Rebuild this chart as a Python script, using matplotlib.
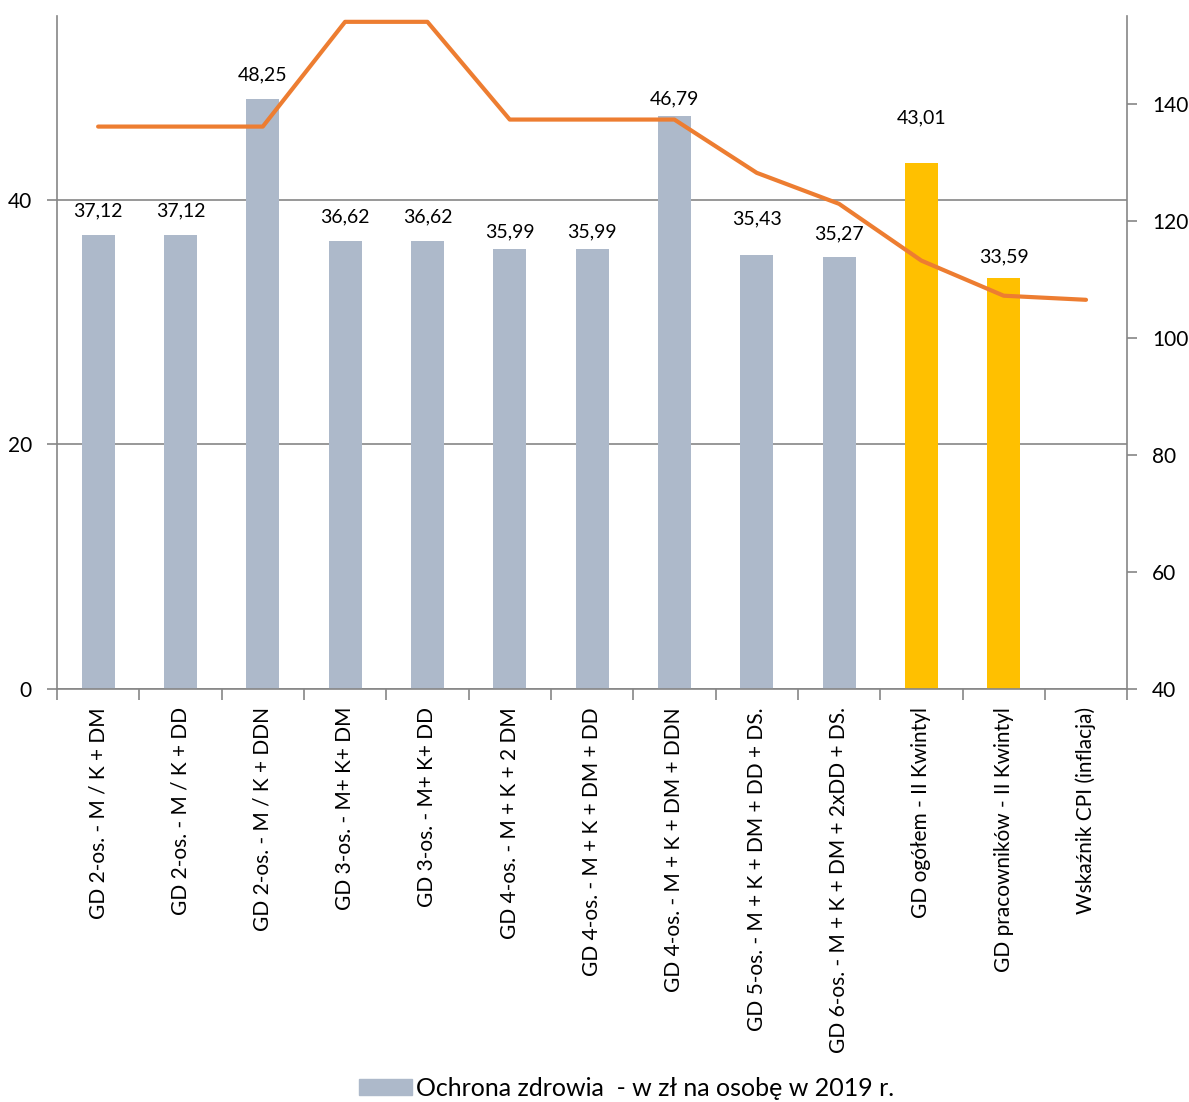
import numpy as np
import matplotlib.pyplot as plt
from matplotlib.patches import Patch

plt.rcParams['font.family'] = ['Lato', 'DejaVu Sans']

categories = [
    'GD 2-os. - M / K + DM',
    'GD 2-os. - M / K + DD',
    'GD 2-os. - M / K + DDN',
    'GD 3-os. - M+ K+ DM',
    'GD 3-os. - M+ K+ DD',
    'GD 4-os. - M + K + 2 DM',
    'GD 4-os. - M + K + DM + DD',
    'GD 4-os. - M + K + DM + DDN',
    'GD 5-os. - M + K + DM + DD + DS.',
    'GD 6-os. - M + K + DM + 2xDD + DS.',
    'GD ogółem - II Kwintyl',
    'GD pracowników - II Kwintyl',
    'Wskaźnik CPI (inflacja)',
]
health_cost = [37.12, 37.12, 48.25, 36.62, 36.62, 35.99, 35.99, 46.79,
               35.43, 35.27, 43.01, 33.59, np.nan]
index_line = [136.1, 136.1, 136.1, 154.0, 154.0, 137.3, 137.3, 137.3,
              128.2, 122.9, 113.2, 107.2, 106.5]

grey_bar = '#ADB9CA'
yellow_bar = '#FFC000'
bar_colors = [grey_bar] * 10 + [yellow_bar] * 2 + [grey_bar]
# label offset above bar top, in points
label_pad = [17, 17, 17, 17, 17, 12, 12, 13, 26, 17, 32, 15]
axis_grey = '#868686'

fig = plt.figure(figsize=(11.89, 11.02), dpi=100)
ax = fig.add_axes([0.0479, 0.3748, 0.9001, 0.6107])
x = np.arange(len(categories))

ax.bar(x, health_cost, width=0.4, color=bar_colors, zorder=2)
ax.set_xlim(-0.5, len(categories) - 0.5)
ax.set_ylim(0, 55)
ax.set_yticks([0, 20, 40])
ax.yaxis.grid(True, color=axis_grey, lw=1.2, zorder=0)
ax.set_axisbelow(True)

for i, v in enumerate(health_cost):
    if np.isnan(v):
        continue
    ax.annotate(f'{v:.2f}'.replace('.', ','), (x[i], v),
                xytext=(0, label_pad[i]), textcoords='offset points',
                ha='center', va='center', fontsize=14, color='#000000')

ax.set_xticks(x)
ax.set_xticklabels(categories, rotation=90, fontsize=15, va='top')
ax.tick_params(axis='x', length=0, pad=13)
ax.set_xticks(np.arange(-0.5, len(categories)), minor=True)
ax.tick_params(axis='x', which='minor', length=8, color=axis_grey, width=1.2)
ax.tick_params(axis='y', length=7, color=axis_grey, width=1.2, labelsize=15, pad=11)

for side in ['top', 'right']:
    ax.spines[side].set_visible(False)
for side in ['left', 'bottom']:
    ax.spines[side].set_color(axis_grey)
    ax.spines[side].set_linewidth(1.2)

ax2 = ax.twinx()
ax2.plot(x, index_line, color='#ED7D31', lw=3, solid_capstyle='round', zorder=3)
ax2.set_ylim(40, 155)
ax2.set_yticks(range(40, 141, 20))
ax2.tick_params(axis='y', length=7, color=axis_grey, width=1.2, labelsize=15, pad=11)
for side in ['top', 'left', 'bottom']:
    ax2.spines[side].set_visible(False)
ax2.spines['right'].set_color(axis_grey)
ax2.spines['right'].set_linewidth(1.2)

fig.legend(handles=[Patch(color=grey_bar, label='Ochrona zdrowia  - w zł na osobę w 2019 r.')],
           loc='center', bbox_to_anchor=(0.527, 0.0125), frameon=False,
           fontsize=18, handlelength=2.1, handleheight=0.65, handletextpad=0.15)

fig.savefig('out.png', dpi=100)
